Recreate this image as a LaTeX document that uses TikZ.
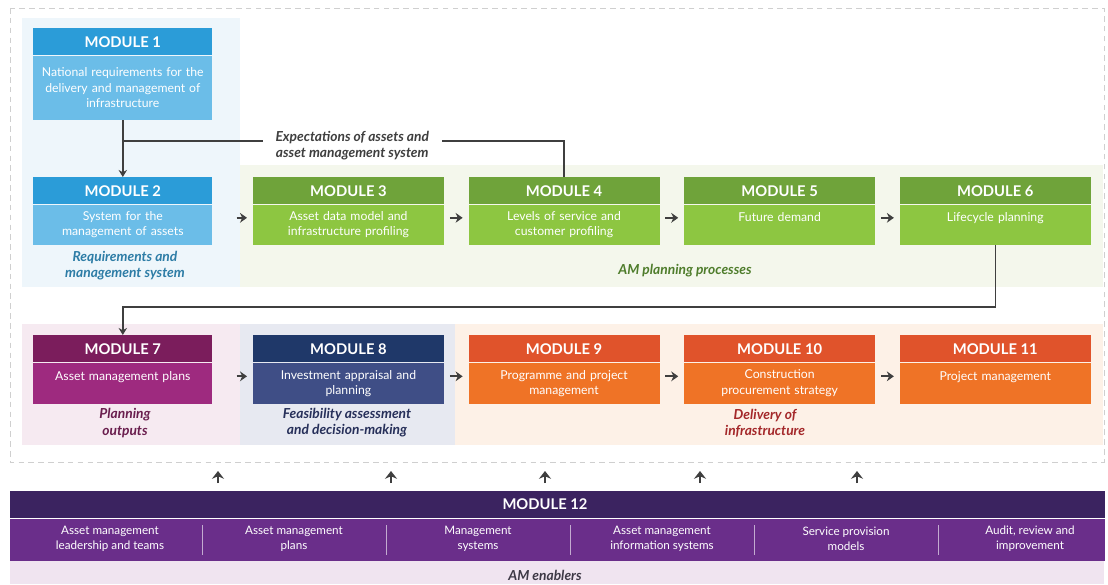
\documentclass[tikz,border=0pt]{standalone}
\usepackage{fontspec}
\setmainfont{Lato}
\usepackage{xcolor}
\usetikzlibrary{arrows.meta,positioning}

\definecolor{blueH}{HTML}{2B9CD8}
\definecolor{blueB}{HTML}{6BBDE8}
\definecolor{blueBg}{HTML}{EEF6FB}
\definecolor{greenH}{HTML}{6FA33A}
\definecolor{greenB}{HTML}{8DC641}
\definecolor{greenBg}{HTML}{F4F7EC}
\definecolor{plumH}{HTML}{7B1D5C}
\definecolor{plumB}{HTML}{9E2A7F}
\definecolor{plumBg}{HTML}{F6EAF1}
\definecolor{navyH}{HTML}{1F3869}
\definecolor{navyB}{HTML}{3F4E86}
\definecolor{navyBg}{HTML}{E7E9F1}
\definecolor{orangeH}{HTML}{E0532B}
\definecolor{orangeB}{HTML}{EF7326}
\definecolor{orangeBg}{HTML}{FDF1E7}
\definecolor{violetH}{HTML}{3B2360}
\definecolor{violetB}{HTML}{6A2E8A}
\definecolor{violetBg}{HTML}{F0E4F0}
\definecolor{reqText}{HTML}{2E7DA6}
\definecolor{greenText}{HTML}{4F7D2C}
\definecolor{plumText}{HTML}{6A1E4E}
\definecolor{navyText}{HTML}{27305A}
\definecolor{redText}{HTML}{A4282A}
\definecolor{lineGrey}{HTML}{3F3F3F}
\definecolor{frameGrey}{HTML}{CFCFCF}

\newcommand{\modfont}{\fontsize{10.5}{12}\selectfont\bfseries}
\newcommand{\txtfont}{\fontsize{8.7}{11}\selectfont}
\newcommand{\itemfont}{\fontsize{8.3}{10.6}\selectfont}
\newcommand{\grpfont}{\fontsize{9.8}{11.5}\selectfont\bfseries\itshape}

\begin{document}
\begin{tikzpicture}[x=0.025cm,y=-0.025cm,
  modhead/.style={fill=#1,text=white,font=\modfont,minimum width=4.775cm,minimum height=0.675cm,inner sep=0pt},
  modbody/.style={fill=#1,text=white,font=\txtfont,align=center,text width=4.5cm,minimum width=4.775cm,minimum height=1.0cm,inner xsep=0.1375cm,inner ysep=0pt},
  narrow/.style={minimum width=4.475cm},
  narrowtext/.style={narrow,text width=4.2cm},
  grp/.style={font=\grpfont,align=center,text=#1},
  item/.style={text=white,font=\itemfont,align=center},
  flow/.style={draw=lineGrey,line width=1.1pt,-{Stealth[length=5pt,width=6pt]}},
  hop/.style={draw=lineGrey,line width=1.4pt,-{Stealth[length=5pt,width=7pt]},shorten <=#1,shorten >=4pt},
  hop/.default=4pt,
  uparrow/.style={draw=lineGrey,line width=1.7pt,-{Stealth[length=5.5pt,width=8.5pt]}}]
\useasboundingbox (0,0) rectangle (1108,584);
\fill[white] (0,0) rectangle (1108,584);

% backgrounds
\fill[blueBg] (22,18) rectangle (240,287);
\fill[greenBg] (240,165) rectangle (1103,287);
\fill[plumBg] (22,324) rectangle (240,445);
\fill[navyBg] (240,324) rectangle (455,445);
\fill[orangeBg] (455,324) rectangle (1103,445);
\draw[frameGrey,line width=0.6pt,dash pattern=on 4pt off 3pt] (10,8) rectangle (1104,462);

% row 1
\node[modhead=blueH,narrow,anchor=north west] (H1) at (33,28) {MODULE 1};
\node[modbody=blueB,narrowtext,minimum height=1.6cm,below=0pt of H1] (B1) {National requirements for the\\delivery and management of\\infrastructure};
\node[modhead=blueH,narrow,anchor=north west] (H2) at (33,177) {MODULE 2};
\node[modbody=blueB,narrowtext,below=0pt of H2] (B2) {System for the\\management of assets};
\node[modhead=greenH,right=1.0cm of H2] (H3) {MODULE 3};
\node[modbody=greenB,below=0pt of H3] (B3) {Asset data model and\\infrastructure profiling};
\node[modhead=greenH,right=0.6cm of H3] (H4) {MODULE 4};
\node[modbody=greenB,below=0pt of H4] (B4) {Levels of service and\\customer profiling};
\node[modhead=greenH,right=0.6cm of H4] (H5) {MODULE 5};
\node[modbody=greenB,below=0pt of H5] (B5) {Future demand\\\mbox{}};
\node[modhead=greenH,right=0.6cm of H5] (H6) {MODULE 6};
\node[modbody=greenB,below=0pt of H6] (B6) {Lifecycle planning\\\mbox{}};

\node[grp=reqText] (G1) at (125,266) {Requirements and\\management system};
\node[grp=greenText] (G2) at (685,271) {AM planning processes};

% row 2
\node[modhead=plumH,narrow,anchor=north west] (H7) at (33,335) {MODULE 7};
\node[modbody=plumB,narrowtext,minimum height=1.025cm,below=0pt of H7] (B7) {Asset management plans\\\mbox{}};
\node[modhead=navyH,right=1.0cm of H7] (H8) {MODULE 8};
\node[modbody=navyB,minimum height=1.025cm,below=0pt of H8] (B8) {Investment appraisal and\\planning};
\node[modhead=orangeH,right=0.6cm of H8] (H9) {MODULE 9};
\node[modbody=orangeB,minimum height=1.025cm,below=0pt of H9] (B9) {Programme and project\\management};
\node[modhead=orangeH,right=0.6cm of H9] (H10) {MODULE 10};
\node[modbody=orangeB,minimum height=1.025cm,below=0pt of H10] (B10) {Construction\\procurement strategy};
\node[modhead=orangeH,right=0.6cm of H10] (H11) {MODULE 11};
\node[modbody=orangeB,minimum height=1.025cm,below=0pt of H11] (B11) {Project management\\\mbox{}};

\node[grp=plumText] (G3) at (125,423) {Planning\\outputs};
\node[grp=navyText] (G4) at (347,423) {Feasibility assessment\\and decision-making};
\node[grp=redText] (G5) at (765,423) {Delivery of\\infrastructure};

% module 12
\node[fill=violetH,minimum width=27.35cm,minimum height=0.675cm,inner sep=0pt,anchor=north west] (H12) at (10,491) {};
\node[fill=violetB,minimum width=27.35cm,minimum height=1.05cm,inner sep=0pt,below=0pt of H12] (B12) {};
\fill[violetBg] (B12.south west) rectangle (1104,584);
\node[text=white,font=\modfont] (T12) at (545,504.5) {MODULE 12};
\foreach \s in {202,386,570,754,938}
  \draw[white!60!violetB,line width=0.6pt] (\s,525) -- (\s,555);
\node[item] (E1) at (110,539) {Asset management\\leadership and teams};
\node[item] (E2) at (294,539) {Asset management\\plans};
\node[item] (E3) at (478,539) {Management\\systems};
\node[item] (E4) at (662,539) {Asset management\\information systems};
\node[item] (E5) at (846,539) {Service provision\\models};
\node[item] (E6) at (1030,539) {Audit, review and\\improvement};
\node[grp=lineGrey!80!violetH] (G6) at (545,575) {AM enablers};

% connectors
\draw[flow] (B1) -- (H2);
\draw[lineGrey,line width=1.1pt] (H4.north) |- (B1.south |- 0,141)
  node[pos=0.74,fill=white,text=lineGrey,font=\grpfont,align=center,inner xsep=9pt,inner ysep=1pt,yshift=-3pt] (X) {Expectations of assets and\\asset management system};
\draw[flow] (B6.south) -- ++(0,62) -| (H7.north);
\draw[hop=17pt] ([yshift=5pt]B2.east) -- ([yshift=5pt]B3.west);
\draw[hop] ([yshift=5pt]B3.east) -- ([yshift=5pt]B4.west);
\draw[hop] ([yshift=5pt]B4.east) -- ([yshift=5pt]B5.west);
\draw[hop] ([yshift=5pt]B5.east) -- ([yshift=5pt]B6.west);
\draw[hop=17pt] ([yshift=5pt]B7.east) -- ([yshift=5pt]B8.west);
\draw[hop] ([yshift=5pt]B8.east) -- ([yshift=5pt]B9.west);
\draw[hop] ([yshift=5pt]B9.east) -- ([yshift=5pt]B10.west);
\draw[hop] ([yshift=5pt]B10.east) -- ([yshift=5pt]B11.west);
\foreach \x in {218,391,545,700,857}
  \draw[uparrow] (H12.north -| \x,0) ++(0,-8) -- ++(0,-12);
\end{tikzpicture}
\end{document}
